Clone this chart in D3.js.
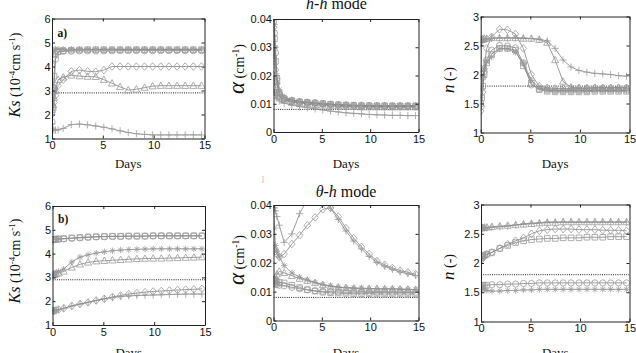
<!DOCTYPE html>
<html>
<head>
<meta charset="utf-8">
<script src="https://cdn.jsdelivr.net/npm/d3@7"></script>
<style>
  body { margin: 0; background: #fff; }
  svg { display: block; }
</style>
</head>
<body>
<div id="chart"></div>
<script>
// time axis shared by every series (days)
var days = [0, 0.1, 0.2, 0.35, 0.6, 1.1, 1.9, 2.7, 3.5, 4.3, 5.1, 5.9, 6.7, 7.5, 8.3, 9.1, 9.9, 10.7, 11.5, 12.3, 13.1, 13.9, 14.7];

// marker of each series, same order in every panel
var markerKinds = ["o", "s", "d", "^", "+", "*"];

// true parameter values (dotted lines)
var ksTrue = 2.9, alphaTrue = 0.008, nTrue = 1.8;

// a) Ks, h-h mode
var ksHH = [
  [1.7, 2.3, 3.1, 4.3, 4.6, 4.63, 4.64, 4.65, 4.65, 4.65, 4.65, 4.65, 4.66, 4.66, 4.66, 4.66, 4.66, 4.66, 4.66, 4.66, 4.66, 4.66, 4.66],
  [2.4, 3.0, 3.6, 4.5, 4.62, 4.66, 4.68, 4.69, 4.7, 4.7, 4.7, 4.7, 4.7, 4.7, 4.7, 4.7, 4.7, 4.7, 4.7, 4.7, 4.7, 4.7, 4.7],
  [2.0, 2.2, 2.5, 2.8, 3.2, 3.45, 3.8, 3.85, 3.8, 3.78, 3.85, 4.0, 4.0, 4.0, 4.0, 4.0, 4.0, 4.0, 4.0, 4.0, 4.0, 4.0, 4.0],
  [2.2, 2.4, 2.7, 3.0, 3.45, 3.55, 3.63, 3.6, 3.58, 3.57, 3.45, 3.3, 3.15, 3.02, 3.05, 3.12, 3.18, 3.2, 3.2, 3.2, 3.2, 3.2, 3.2],
  [1.6, 1.4, 1.35, 1.35, 1.36, 1.42, 1.58, 1.6, 1.57, 1.52, 1.47, 1.4, 1.32, 1.25, 1.2, 1.17, 1.15, 1.15, 1.15, 1.15, 1.15, 1.15, 1.15],
  [4.2, 4.55, 4.7, 4.72, 4.72, 4.72, 4.72, 4.72, 4.72, 4.72, 4.72, 4.72, 4.72, 4.72, 4.72, 4.72, 4.72, 4.72, 4.72, 4.72, 4.72, 4.72, 4.72]
];

// alpha, h-h mode
var alphaHH = [
  [0.039, 0.035, 0.028, 0.019, 0.014, 0.012, 0.0112, 0.0108, 0.0106, 0.0104, 0.0101, 0.0099, 0.0097, 0.0096, 0.0095, 0.0095, 0.0094, 0.0094, 0.0094, 0.0093, 0.0093, 0.0093, 0.0093],
  [0.026, 0.033, 0.025, 0.018, 0.0135, 0.0118, 0.011, 0.0106, 0.0104, 0.0102, 0.01, 0.0098, 0.0096, 0.0095, 0.0094, 0.0093, 0.0093, 0.0092, 0.0092, 0.0092, 0.0092, 0.0092, 0.0092],
  [0.037, 0.03, 0.022, 0.017, 0.013, 0.0115, 0.0108, 0.0105, 0.0103, 0.01, 0.0098, 0.0096, 0.0094, 0.0093, 0.0092, 0.0091, 0.0091, 0.009, 0.009, 0.009, 0.009, 0.009, 0.009],
  [0.02, 0.018, 0.016, 0.014, 0.0125, 0.0112, 0.0106, 0.0102, 0.0099, 0.0096, 0.0094, 0.0092, 0.0091, 0.009, 0.0089, 0.0088, 0.0088, 0.0088, 0.0088, 0.0088, 0.0088, 0.0088, 0.0088],
  [0.015, 0.014, 0.013, 0.012, 0.011, 0.0102, 0.0095, 0.009, 0.0086, 0.0082, 0.0078, 0.0074, 0.0071, 0.0068, 0.0066, 0.0064, 0.0062, 0.0061, 0.006, 0.0059, 0.0059, 0.0058, 0.0058],
  [0.04, 0.038, 0.03, 0.02, 0.015, 0.0125, 0.0113, 0.0108, 0.0105, 0.0102, 0.01, 0.0098, 0.0096, 0.0095, 0.0094, 0.0094, 0.0093, 0.0093, 0.0093, 0.0093, 0.0092, 0.0092, 0.0092]
];

// n, h-h mode
var nHH = [
  [2.1, 2.0, 1.95, 2.05, 2.25, 2.42, 2.5, 2.49, 2.46, 2.2, 1.82, 1.75, 1.73, 1.72, 1.72, 1.72, 1.72, 1.72, 1.73, 1.73, 1.73, 1.73, 1.73],
  [1.5, 1.6, 1.8, 2.0, 2.2, 2.35, 2.45, 2.45, 2.42, 2.15, 1.85, 1.74, 1.71, 1.7, 1.7, 1.7, 1.7, 1.7, 1.71, 1.71, 1.71, 1.71, 1.71],
  [1.37, 1.45, 1.7, 2.1, 2.45, 2.65, 2.78, 2.77, 2.7, 2.45, 2.0, 1.8, 1.77, 1.76, 1.76, 1.76, 1.76, 1.76, 1.77, 1.77, 1.77, 1.77, 1.77],
  [2.6, 2.6, 2.61, 2.62, 2.62, 2.63, 2.63, 2.63, 2.63, 2.62, 2.62, 2.6, 2.55, 2.25, 1.88, 1.78, 1.77, 1.77, 1.77, 1.77, 1.77, 1.77, 1.77],
  [2.5, 2.56, 2.58, 2.6, 2.61, 2.62, 2.63, 2.63, 2.63, 2.63, 2.62, 2.61, 2.58, 2.45, 2.25, 2.13, 2.07, 2.04, 2.02, 2.01, 2.0, 1.98, 1.97],
  [1.6, 1.75, 1.95, 2.1, 2.22, 2.3, 2.44, 2.44, 2.38, 2.2, 1.9, 1.77, 1.74, 1.73, 1.73, 1.73, 1.73, 1.73, 1.73, 1.73, 1.73, 1.73, 1.73]
];

// b) Ks, theta-h mode
var ksTH = [
  [4.58, 4.58, 4.6, 4.6, 4.6, 4.62, 4.64, 4.66, 4.68, 4.7, 4.71, 4.72, 4.72, 4.73, 4.73, 4.73, 4.74, 4.74, 4.74, 4.74, 4.74, 4.74, 4.74],
  [4.6, 4.6, 4.6, 4.61, 4.62, 4.63, 4.66, 4.68, 4.7, 4.71, 4.72, 4.73, 4.73, 4.74, 4.74, 4.74, 4.75, 4.75, 4.75, 4.75, 4.75, 4.75, 4.75],
  [1.6, 1.6, 1.6, 1.62, 1.65, 1.7, 1.8, 1.88, 1.95, 2.03, 2.1, 2.18, 2.24, 2.3, 2.34, 2.38, 2.41, 2.43, 2.45, 2.47, 2.49, 2.5, 2.52],
  [3.1, 3.1, 3.12, 3.15, 3.18, 3.25, 3.42, 3.55, 3.63, 3.68, 3.7, 3.72, 3.74, 3.76, 3.78, 3.79, 3.8, 3.8, 3.81, 3.82, 3.83, 3.84, 3.85],
  [1.6, 1.6, 1.6, 1.62, 1.65, 1.7, 1.8, 1.88, 1.95, 2.03, 2.1, 2.15, 2.2, 2.22, 2.24, 2.25, 2.26, 2.27, 2.28, 2.29, 2.3, 2.3, 2.3],
  [3.1, 3.1, 3.15, 3.2, 3.25, 3.35, 3.65, 3.85, 3.95, 4.02, 4.08, 4.12, 4.15, 4.17, 4.18, 4.19, 4.2, 4.2, 4.2, 4.2, 4.2, 4.2, 4.2]
];

// alpha, theta-h mode
var alphaTH = [
  [0.013, 0.0128, 0.0126, 0.0124, 0.0122, 0.012, 0.0115, 0.011, 0.0106, 0.0103, 0.0101, 0.01, 0.0099, 0.0098, 0.0098, 0.0098, 0.0097, 0.0097, 0.0097, 0.0097, 0.0097, 0.0097, 0.0097],
  [0.014, 0.0138, 0.0136, 0.0134, 0.0132, 0.013, 0.0122, 0.0114, 0.0107, 0.0102, 0.0098, 0.0096, 0.0095, 0.0094, 0.0093, 0.0093, 0.0093, 0.0092, 0.0092, 0.0092, 0.0092, 0.0092, 0.0092],
  [0.026, 0.025, 0.024, 0.023, 0.022, 0.023, 0.0265, 0.0295, 0.033, 0.0357, 0.0385, 0.039, 0.036, 0.032, 0.0285, 0.0255, 0.023, 0.0206, 0.0193, 0.0182, 0.0173, 0.0167, 0.016],
  [0.014, 0.0145, 0.015, 0.016, 0.017, 0.0165, 0.0155, 0.0145, 0.0138, 0.013, 0.0123, 0.0118, 0.0115, 0.0113, 0.0111, 0.011, 0.011, 0.011, 0.0109, 0.0109, 0.0108, 0.0108, 0.0107],
  [0.038, 0.039, 0.038, 0.036, 0.033, 0.027, 0.03, 0.037, 0.042, 0.045, 0.043, 0.039, 0.035, 0.031, 0.0275, 0.0248, 0.0222, 0.0201, 0.0188, 0.0177, 0.0168, 0.0162, 0.0156],
  [0.039, 0.032, 0.026, 0.024, 0.022, 0.019, 0.0165, 0.015, 0.0141, 0.0132, 0.0125, 0.012, 0.0116, 0.0114, 0.0113, 0.0112, 0.0111, 0.011, 0.011, 0.011, 0.0109, 0.0108, 0.0107]
];

// n, theta-h mode
var nTH = [
  [1.6, 1.61, 1.62, 1.62, 1.62, 1.63, 1.63, 1.64, 1.64, 1.65, 1.65, 1.66, 1.66, 1.66, 1.66, 1.66, 1.66, 1.66, 1.66, 1.66, 1.66, 1.66, 1.66],
  [2.1, 2.1, 2.12, 2.13, 2.15, 2.18, 2.25, 2.3, 2.35, 2.38, 2.4, 2.41, 2.42, 2.42, 2.43, 2.43, 2.43, 2.44, 2.44, 2.44, 2.45, 2.45, 2.45],
  [2.05, 2.07, 2.1, 2.12, 2.15, 2.18, 2.25, 2.32, 2.38, 2.43, 2.5, 2.55, 2.57, 2.58, 2.58, 2.58, 2.57, 2.57, 2.57, 2.56, 2.56, 2.56, 2.55],
  [2.6, 2.6, 2.6, 2.61, 2.61, 2.62, 2.63, 2.64, 2.65, 2.66, 2.67, 2.68, 2.69, 2.69, 2.7, 2.7, 2.7, 2.7, 2.7, 2.7, 2.7, 2.7, 2.7],
  [2.58, 2.59, 2.6, 2.6, 2.6, 2.61, 2.62, 2.63, 2.65, 2.67, 2.68, 2.69, 2.7, 2.7, 2.7, 2.7, 2.7, 2.7, 2.7, 2.7, 2.7, 2.7, 2.7],
  [1.6, 1.58, 1.56, 1.54, 1.53, 1.52, 1.52, 1.53, 1.53, 1.54, 1.54, 1.55, 1.55, 1.55, 1.55, 1.55, 1.55, 1.55, 1.55, 1.55, 1.55, 1.55, 1.55]
];

var dayTicks = [0, 5, 10, 15];
var ksTicks = [1, 2, 3, 4, 5, 6];
var alphaTicks = [0, 0.01, 0.02, 0.03, 0.04];
var nTicks = [1, 1.5, 2, 2.5, 3];

var W = 636, H = 353;
var serif = "'Liberation Serif', 'Times New Roman', serif";
var sans = "'Liberation Sans', Arial, sans-serif";

// panel layout: [left, right, top, bottom] in px
var panels = [
  {data: ksHH, box: [52, 204.5, 18.5, 138.5], dom: [1, 6], ticks: ksTicks, ref: ksTrue, label: "ks", lx: 20, ly: 75, tag: "a)"},
  {data: alphaHH, box: [273.5, 418.5, 19, 132], dom: [0, 0.04], ticks: alphaTicks, ref: alphaTrue, label: "alpha", lx: 244, ly: 69},
  {data: nHH, box: [480.7, 629.5, 16.5, 132.5], dom: [1, 3], ticks: nTicks, ref: nTrue, label: "n", lx: 454, ly: 80},
  {data: ksTH, box: [52.5, 205, 206, 325], dom: [1, 6], ticks: ksTicks, ref: ksTrue, label: "ks", lx: 20, ly: 261, tag: "b)"},
  {data: alphaTH, box: [273.5, 418.5, 205, 320.5], dom: [0, 0.04], ticks: alphaTicks, ref: alphaTrue, label: "alpha", lx: 244, ly: 260},
  {data: nTH, box: [481, 629.5, 204.5, 321.5], dom: [1, 3], ticks: nTicks, ref: nTrue, label: "n", lx: 454, ly: 267}
];

var markerShapes = {
  "o": "M3.1,0A3.1,3.1 0 1,1 -3.1,0A3.1,3.1 0 1,1 3.1,0Z",
  "s": "M-2.8,-2.8H2.8V2.8H-2.8Z",
  "d": "M0,-3.8L3.3,0L0,3.8L-3.3,0Z",
  "^": "M0,-3.7L3.5,2.7L-3.5,2.7Z",
  "+": "M-3.6,0H3.6M0,-3.6V3.6",
  "*": "M-3.2,0H3.2M0,-3.2V3.2M-2.3,-2.3L2.3,2.3M-2.3,2.3L2.3,-2.3"
};

// label pieces: text, size, italic, superscript
var yLabels = {
  ks: [["Ks", 16, true], [" (10", 14], ["-4", 9, false, true], ["cm s", 14], ["-1", 9, false, true], [")", 14]],
  alpha: [["\u03b1", 23, true], [" (cm", 14], ["-1", 9.5, false, true], [")", 14]],
  n: [["n", 17, true], [" (-)", 14]]
};

var svg = d3.select("#chart").append("svg")
  .attr("width", W)
  .attr("height", H);

function addPieces(text, pieces) {
  var up = false;
  pieces.forEach(function(p) {
    var ts = text.append("tspan")
      .attr("font-size", p[1])
      .attr("font-style", p[2] ? "italic" : "normal")
      .text(p[0]);
    if (p[3] && !up) { ts.attr("dy", -5.5); up = true; }
    else if (!p[3] && up) { ts.attr("dy", 5.5); up = false; }
  });
}

panels.forEach(function(p, pi) {
  var l = p.box[0], r = p.box[1], t = p.box[2], b = p.box[3];
  var x = d3.scaleLinear().domain([0, 15]).range([l, r]);
  var y = d3.scaleLinear().domain(p.dom).range([b, t]);

  var clipId = "clip" + pi;
  svg.append("clipPath").attr("id", clipId)
    .append("rect").attr("x", l).attr("y", t).attr("width", r - l).attr("height", b - t);

  var plot = svg.append("g").attr("clip-path", "url(#" + clipId + ")");

  // true value
  plot.append("line")
    .attr("x1", x(0)).attr("x2", x(15))
    .attr("y1", y(p.ref)).attr("y2", y(p.ref))
    .attr("stroke", "#222")
    .attr("stroke-width", 1)
    .attr("stroke-dasharray", "1,1.2");

  var line = d3.line()
    .x(function(d) { return x(d[0]); })
    .y(function(d) { return y(d[1]); });

  p.data.forEach(function(vals, si) {
    var pts = days.map(function(dv, i) { return [dv, vals[i]]; });
    plot.append("path")
      .datum(pts)
      .attr("d", line)
      .attr("fill", "none")
      .attr("stroke", "#7c7c7c")
      .attr("stroke-width", 0.75);
    plot.selectAll(null)
      .data(pts)
      .enter().append("path")
      .attr("d", markerShapes[markerKinds[si]])
      .attr("transform", function(d) { return "translate(" + x(d[0]) + "," + y(d[1]) + ")"; })
      .attr("fill", "none")
      .attr("stroke", "#9a9a9a")
      .attr("stroke-width", 0.8);
  });

  // box with inward ticks, matlab style
  function style(g) {
    g.attr("font-family", sans).attr("font-size", 11).style("color", "#222");
    g.selectAll("text").attr("fill", "#111");
  }
  svg.append("g").attr("transform", "translate(0," + b + ")")
    .call(d3.axisBottom(x).tickValues(dayTicks).tickSizeInner(-3).tickSizeOuter(0).tickPadding(3))
    .call(style);
  svg.append("g").attr("transform", "translate(0," + t + ")")
    .call(d3.axisTop(x).tickValues(dayTicks).tickFormat("").tickSizeInner(-3).tickSizeOuter(0))
    .call(style);
  svg.append("g").attr("transform", "translate(" + l + ",0)")
    .call(d3.axisLeft(y).tickValues(p.ticks).tickFormat(function(d) { return d; }).tickSizeInner(-3).tickSizeOuter(0).tickPadding(1.5))
    .call(style);
  svg.append("g").attr("transform", "translate(" + r + ",0)")
    .call(d3.axisRight(y).tickValues(p.ticks).tickFormat("").tickSizeInner(-3).tickSizeOuter(0))
    .call(style);

  // y label
  var yl = svg.append("text")
    .attr("transform", "translate(" + p.lx + "," + p.ly + ") rotate(-90)")
    .attr("text-anchor", "middle")
    .attr("font-family", serif)
    .attr("fill", "#111");
  addPieces(yl, yLabels[p.label]);

  // x label, the lower row is cut by the picture edge as in the source
  svg.append("text")
    .attr("x", (l + r) / 2)
    .attr("y", pi < 3 ? 167.5 : 357)
    .attr("text-anchor", "middle")
    .attr("font-family", serif)
    .attr("font-size", 13)
    .attr("fill", "#111")
    .text("Days");

  if (p.tag) {
    svg.append("text")
      .attr("x", l + 5.5)
      .attr("y", pi < 3 ? 36.5 : 223)
      .attr("font-family", serif)
      .attr("font-weight", "bold")
      .attr("font-size", 11.5)
      .attr("fill", "#111")
      .text(p.tag);
  }
});

// mode titles
var titles = [
  {x: 336.5, y: 9, parts: [["h", 16, true], ["-", 16], ["h", 16, true], [" mode", 16]]},
  {x: 346, y: 197, parts: [["\u03b8", 16, true], ["-", 16], ["h", 16, true], [" mode", 16]]}
];
titles.forEach(function(tt) {
  var tx = svg.append("text")
    .attr("x", tt.x).attr("y", tt.y)
    .attr("text-anchor", "middle")
    .attr("font-family", serif)
    .attr("fill", "#111");
  addPieces(tx, tt.parts);
});

// small scan mark between the panels
svg.append("text")
  .attr("x", 261).attr("y", 182)
  .attr("font-family", serif)
  .attr("font-size", 9)
  .attr("fill", "#bbb")
  .text("]");
</script>
</body>
</html>
